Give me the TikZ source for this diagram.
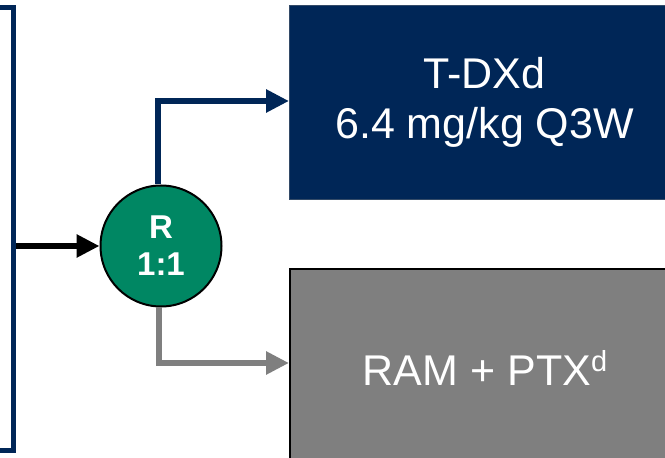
\documentclass[tikz,border=0pt]{standalone}
\usepackage{fontspec}
\setmainfont{Liberation Sans}
\usetikzlibrary{arrows.meta}
\definecolor{navy}{HTML}{002657}
\definecolor{rgreen}{HTML}{008763}
\definecolor{armgray}{HTML}{7F7F7F}
\tikzset{
  armbox/.style={rectangle, inner sep=0pt, text=white, align=center,
    font=\fontsize{43}{50}\selectfont},
  flow/.style={line width=6pt, -{Triangle[length=23pt,width=22pt]}},
}
\begin{document}
\begin{tikzpicture}[x=1pt,y=1pt]
\useasboundingbox (0,0) rectangle (665,458);
\fill[white] (0,0) rectangle (665,458);
% left (population) box
\node[rectangle, draw=navy, line width=5pt, fill=white, minimum width=216pt, minimum height=443pt, inner sep=0pt, anchor=east] (pop) at (16,228.5) {};
% randomisation circle
\node[circle, fill=rgreen, draw=black, line width=2pt, minimum size=121pt, inner sep=0pt, text=white, align=center,
  font=\bfseries\fontsize{33}{37}\selectfont] (R) at (161,212) {R\\1:1};
% arms
\node[armbox, fill=navy, draw=navy!60!gray, line width=1pt, minimum width=390pt, minimum height=194pt, anchor=north west] (tdxd) at (289,453) {T-DXd\\6.4 mg/kg Q3W};
\node[armbox, fill=armgray, draw=black, line width=2pt, minimum width=390pt, minimum height=198pt, anchor=north west] (ram) at (289,190) {RAM + PTX\raisebox{14pt}{\fontsize{29}{29}\selectfont d}};
% connectors
\draw[flow, black] (pop.east |- R.west) -- (R.west);
\draw[flow, navy] (R.north -| 158,0) |- (tdxd.west |- 0,357);
\draw[flow, armgray] (R.south -| 159,0) |- (ram.west |- 0,95);
\end{tikzpicture}
\end{document}
